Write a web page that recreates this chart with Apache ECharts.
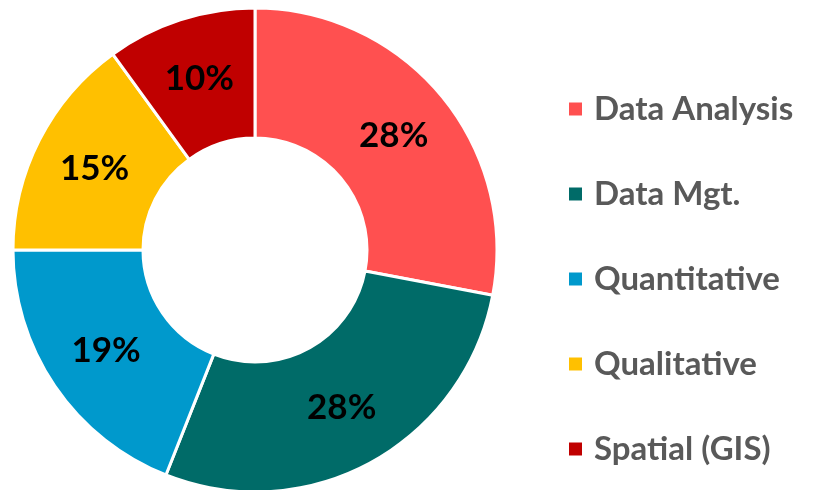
<!DOCTYPE html>
<html>
<head>
<meta charset="utf-8">
<script src="https://cdn.jsdelivr.net/npm/echarts@6/dist/echarts.min.js"></script>
<style>
  html, body { margin: 0; padding: 0; background: #fff; }
  #chart { width: 813px; height: 490px; }
</style>
</head>
<body>
<div id="chart"></div>
<script>
var categories = ['Data Analysis', 'Data Mgt.', 'Quantitative', 'Qualitative', 'Spatial (GIS)'];
var shares = [28, 28, 19, 15, 10];
var colors = ['#FF5050', '#006B68', '#0099CC', '#FFC000', '#C00000'];

var myChart = echarts.init(document.getElementById('chart'));
var option = {
    animation: false,
    color: colors,
    legend: {
        orient: 'vertical',
        left: 562,
        top: 84,
        itemWidth: 15,
        itemHeight: 15,
        itemGap: 45,
        icon: 'rect',
        data: categories,
        textStyle: {
            fontFamily: 'Lato',
            fontWeight: 'bold',
            fontSize: 33,
            color: '#595959',
            lineHeight: 40,
            padding: [0, 0, 0, 6]
        }
    },
    series: [{
        type: 'pie',
        center: [255, 250],
        radius: [112, 242],
        startAngle: 90,
        clockwise: true,
        emphasis: { disabled: true },
        itemStyle: {
            borderColor: '#fff',
            borderWidth: 3
        },
        label: {
            show: true,
            position: 'inside',
            formatter: '{c}%',
            fontFamily: 'Lato',
            fontWeight: 'bold',
            fontSize: 35,
            color: '#000'
        },
        labelLine: { show: false },
        data: categories.map(function (name, i) {
            return { name: name, value: shares[i] };
        })
    }]
};
myChart.setOption(option);
</script>
</body>
</html>
